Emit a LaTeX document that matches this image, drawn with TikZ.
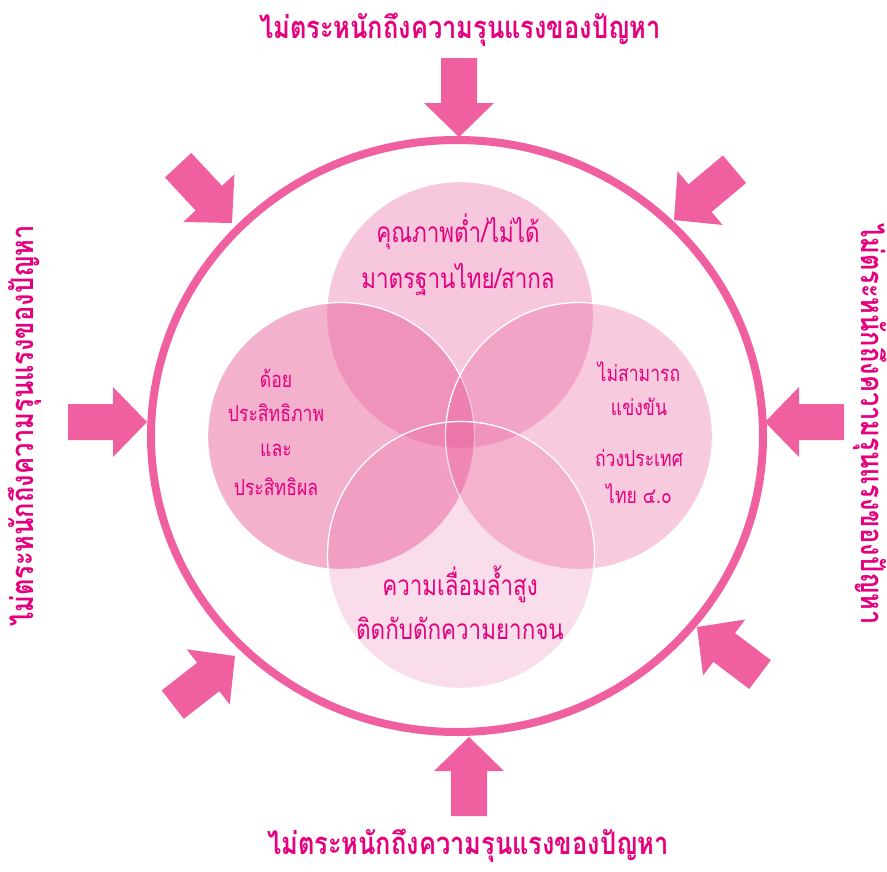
\documentclass[tikz,border=0pt]{standalone}
\usepackage{fontspec}
\newfontfamily\thai[Script=Thai, FakeStretch=0.82]{Loma}
\newfontfamily\thaiin[Script=Thai, FakeStretch=0.8]{Loma}
\definecolor{ringpink}{RGB}{240,95,160}
\definecolor{txtpink}{RGB}{230,0,126}
\definecolor{vennbase}{RGB}{232,86,150}
\tikzset{
  inarrow/.pic={\fill[ringpink] (0,0) -- (-34,35) -- (-34,18) -- (-79,18) -- (-79,-18) -- (-34,-18) -- (-34,-35) -- cycle;},
  vennc/.style={circle, minimum size=267pt, inner sep=0pt, fill=vennbase, draw=white, line width=1.3pt},
  outertxt/.style={text=txtpink, font=\thai\bfseries\fontsize{31}{33}\selectfont, inner sep=0pt},
  bigtxt/.style={text=txtpink, font=\thaiin\fontsize{28}{30}\selectfont, align=center, inner sep=0pt},
  smalltxt/.style={text=txtpink, font=\thaiin\fontsize{22}{24}\selectfont, align=center, inner sep=0pt}
}
\begin{document}
\begin{tikzpicture}[x=1pt,y=-1pt]
\useasboundingbox[fill=white] (0,0) rectangle (887,871);
% outer ring
\draw[ringpink, line width=8pt] (457,436) ellipse [x radius=306, y radius=296];
% arrows
\pic[rotate=-90] at (459,137) {inarrow};
\pic[rotate=90] at (469,737) {inarrow};
\pic[rotate=0] at (147,422) {inarrow};
\pic[rotate=180] at (765,422) {inarrow};
\pic[rotate=-47] at (232,223) {inarrow};
\pic[rotate=-140] at (674,220) {inarrow};
\pic[rotate=38] at (235,656) {inarrow};
\pic[rotate=143] at (697,627) {inarrow};
% venn circles
\node[vennc, fill opacity=0.32] (ctop) at (460,315) {};
\node[vennc, fill opacity=0.46] (cleft) at (341,436) {};
\node[vennc, fill opacity=0.31] (cright) at (579,436) {};
\node[vennc, fill opacity=0.2] (cbot) at (461,555) {};
% circle texts
\node[bigtxt] (ttop1) at (458,232) {คุณภาพต่ำ/ไม่ได้};
\node[bigtxt] (ttop2) at (458,280) {มาตรฐานไทย/สากล};
\node[smalltxt] (tl1) at (276,378) {ด้อย};
\node[smalltxt] (tl2) at (276,413) {ประสิทธิภาพ};
\node[smalltxt] (tl3) at (276,450) {และ};
\node[smalltxt] (tl4) at (276,487) {ประสิทธิผล};
\node[smalltxt] (tr1) at (639,372) {ไม่สามารถ};
\node[smalltxt] (tr2) at (639,407) {แข่งขัน};
\node[smalltxt] (tr3) at (639,458) {ถ่วงประเทศ};
\node[smalltxt] (tr4) at (639,494) {ไทย ๔.๐};
\node[bigtxt] (tb1) at (460,584) {ความเลื่อมล้ำสูง};
\node[bigtxt] (tb2) at (460,628) {ติดกับดักความยากจน};
% outer texts
\node[outertxt] (otop) at (460,30) {ไม่ตระหนักถึงความรุนแรงของปัญหา};
\node[outertxt] (obot) at (468,846) {ไม่ตระหนักถึงความรุนแรงของปัญหา};
\node[outertxt, rotate=90] (oleft) at (25,426) {ไม่ตระหนักถึงความรุนแรงของปัญหา};
\node[outertxt, rotate=-90] (oright) at (870,424) {ไม่ตระหนักถึงความรุนแรงของปัญหา};
\end{tikzpicture}
\end{document}
